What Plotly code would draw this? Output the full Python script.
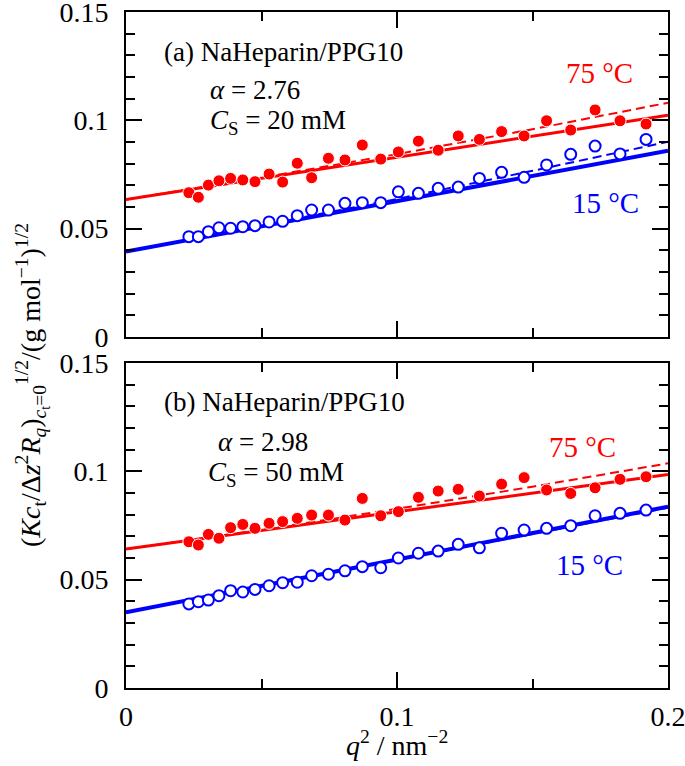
import plotly.graph_objects as go

W, H = 685, 766
FONT = "Liberation Serif"

# ---------------- data ----------------
# panel (a) : Cs = 20 mM
q_a = [0.0232, 0.0267, 0.0304, 0.0343, 0.0386, 0.0431, 0.0476, 0.0528, 0.0578, 0.0632,
       0.0685, 0.0747, 0.0808, 0.0872, 0.0940, 0.1005, 0.1079, 0.1152, 0.1226, 0.1304,
       0.1386, 0.1469, 0.1552, 0.1641, 0.1731, 0.1823, 0.1919]
red_a = [0.0666, 0.0645, 0.0701, 0.0721, 0.0732, 0.0725, 0.0717, 0.0752, 0.0715, 0.0802,
         0.0735, 0.0825, 0.0817, 0.0886, 0.0821, 0.0854, 0.0904, 0.0862, 0.0928, 0.0912,
         0.0948, 0.0928, 0.0998, 0.0955, 0.1048, 0.0998, 0.0983]
blue_a = [0.0463, 0.0463, 0.0486, 0.0504, 0.0502, 0.0509, 0.0514, 0.0531, 0.0534, 0.0560,
          0.0586, 0.0586, 0.0617, 0.0620, 0.0620, 0.0670, 0.0663, 0.0686, 0.0692, 0.0732,
          0.0760, 0.0737, 0.0794, 0.0843, 0.0881, 0.0845, 0.0912]

# panel (b) : Cs = 50 mM
q_b = q_a
red_b = [0.0675, 0.0660, 0.0709, 0.0691, 0.0740, 0.0755, 0.0737, 0.0760, 0.0768, 0.0783,
         0.0798, 0.0798, 0.0775, 0.0875, 0.0795, 0.0814, 0.0880, 0.0909, 0.0917, 0.0886,
         0.0941, 0.0971, 0.0914, 0.0898, 0.0924, 0.0963, 0.0975]
blue_b = [0.0388, 0.0398, 0.0406, 0.0426, 0.0449, 0.0443, 0.0455, 0.0472, 0.0486, 0.0488,
          0.0518, 0.0525, 0.0541, 0.0560, 0.0555, 0.0600, 0.0622, 0.0632, 0.0663, 0.0647,
          0.0714, 0.0729, 0.0737, 0.0749, 0.0795, 0.0806, 0.0821]

# fitted lines
fit_q = [0.0, 0.05, 0.10, 0.15, 0.20]
red_a_solid = [0.0635, 0.0732, 0.0830, 0.0927, 0.1024]
red_a_dash = [0.0635, 0.0736, 0.0844, 0.0959, 0.1081]
blue_a_solid = [0.0394, 0.0511, 0.0627, 0.0744, 0.0860]
blue_a_dash = [0.0394, 0.0514, 0.0637, 0.0767, 0.0901]
red_b_solid = [0.0641, 0.0727, 0.0814, 0.0900, 0.0986]
red_b_dash = [0.0641, 0.0730, 0.0827, 0.0929, 0.1037]
blue_b_solid = [0.0349, 0.0471, 0.0593, 0.0715, 0.0837]
blue_b_dash = [0.0349, 0.0470, 0.0590, 0.0710, 0.0832]

y_tickvals = [0, 0.05, 0.1, 0.15]
y_ticktext = ["0", "0.05", "0.1", "0.15"]
x_tickvals = [0, 0.1, 0.2]
x_ticktext = ["0", "0.1", "0.2"]

# ---------------- figure ----------------
fig = go.Figure()

def add_panel(xa, ya, q, red, blue, rs, rd, bs, bd):
    fig.add_trace(go.Scatter(x=fit_q, y=rd, mode="lines", xaxis=xa, yaxis=ya,
                             line=dict(color="red", width=2, dash="9px,5px")))
    fig.add_trace(go.Scatter(x=fit_q, y=bd, mode="lines", xaxis=xa, yaxis=ya,
                             line=dict(color="blue", width=2, dash="9px,5px")))
    fig.add_trace(go.Scatter(x=fit_q, y=rs, mode="lines", xaxis=xa, yaxis=ya,
                             line=dict(color="red", width=3)))
    fig.add_trace(go.Scatter(x=fit_q, y=bs, mode="lines", xaxis=xa, yaxis=ya,
                             line=dict(color="blue", width=4)))
    fig.add_trace(go.Scatter(x=q, y=red, mode="markers", xaxis=xa, yaxis=ya,
                             marker=dict(symbol="circle", size=12, color="red",
                                         line=dict(color="white", width=1))))
    fig.add_trace(go.Scatter(x=q, y=blue, mode="markers", xaxis=xa, yaxis=ya,
                             marker=dict(symbol="circle", size=11, color="white",
                                         line=dict(color="blue", width=2))))

add_panel("x", "y", q_a, red_a, blue_a, red_a_solid, red_a_dash, blue_a_solid, blue_a_dash)
add_panel("x2", "y2", q_b, red_b, blue_b, red_b_solid, red_b_dash, blue_b_solid, blue_b_dash)

def px_x(p):
    return p / W

def px_y(p):
    return 1 - p / H

xdom = [px_x(126), px_x(668)]
ydom_a = [px_y(337), px_y(12)]
ydom_b = [px_y(688), px_y(363)]

tickfont = dict(family=FONT, size=28, color="black")

def xaxis(anchor, labels):
    return dict(domain=xdom, anchor=anchor, range=[0, 0.2], showgrid=False, zeroline=False,
                automargin=False, ticklabeloverflow="allow",
                showline=True, linecolor="black", linewidth=2, mirror="ticks",
                ticks="inside", ticklen=16, tickwidth=2, tickcolor="black",
                tickvals=x_tickvals, ticktext=x_ticktext, showticklabels=labels,
                tickfont=tickfont, ticklabelstandoff=2,
                minor=dict(dtick=0.05, tick0=0, ticks="inside", ticklen=9, tickwidth=2,
                           tickcolor="black", showgrid=False))

def yaxis(anchor, dom):
    return dict(domain=dom, anchor=anchor, range=[0, 0.15], showgrid=False, zeroline=False,
                automargin=False, ticklabeloverflow="allow",
                showline=True, linecolor="black", linewidth=2, mirror="ticks",
                ticks="inside", ticklen=16, tickwidth=2, tickcolor="black",
                tickvals=y_tickvals, ticktext=y_ticktext, tickfont=tickfont,
                ticklabelstandoff=10,
                minor=dict(dtick=0.01, tick0=0, ticks="inside", ticklen=9, tickwidth=2,
                           tickcolor="black", showgrid=False))

fig.update_layout(
    width=W, height=H, margin=dict(l=0, r=0, t=0, b=0, autoexpand=False),
    paper_bgcolor="white", plot_bgcolor="white", showlegend=False,
    xaxis=xaxis("y", False), yaxis=yaxis("x", ydom_a),
    xaxis2=xaxis("y2", True), yaxis2=yaxis("x2", ydom_b),
)

def note(text, x, y, size=27, color="black", xanchor="left", angle=0):
    fig.add_annotation(text=text, x=px_x(x), y=px_y(y), xref="paper", yref="paper",
                       xanchor=xanchor, yanchor="middle", showarrow=False, textangle=angle,
                       font=dict(family=FONT, size=size, color=color))

# panel (a) texts
note("(a) NaHeparin/PPG10", 162, 52)
note("<i>α</i> = 2.76", 208, 90)
note("<i>C</i><sub>S</sub> = 20 mM", 208, 122)
note("75 °C", 564, 73, size=29, color="red")
note("15 °C", 570, 203, size=29, color="blue")
# panel (b) texts
note("(b) NaHeparin/PPG10", 162, 402)
note("<i>α</i> = 2.98", 216, 442)
note("<i>C</i><sub>S</sub> = 50 mM", 206, 474)
note("75 °C", 547, 447, size=29, color="red")
note("15 °C", 554, 565, size=29, color="blue")

# axis titles
note("<i>q</i><sup>2</sup> / nm<sup>−2</sup>", 397, 743, size=28, xanchor="center")
note("(<i>Kc</i><sub>t</sub>/Δ<i>z</i><sup>2</sup><i>R<sub>q</sub></i>)<sub><i>c</i><sub>t</sub>=0</sub>"
     "<sup>1/2</sup>/(g mol<sup>−1</sup>)<sup>1/2</sup>",
     32, 385, size=28, xanchor="center", angle=-90)

fig.write_html("out.html", config={"displayModeBar": False},
               post_script="document.body.style.margin='0';document.body.style.overflow='hidden';")
